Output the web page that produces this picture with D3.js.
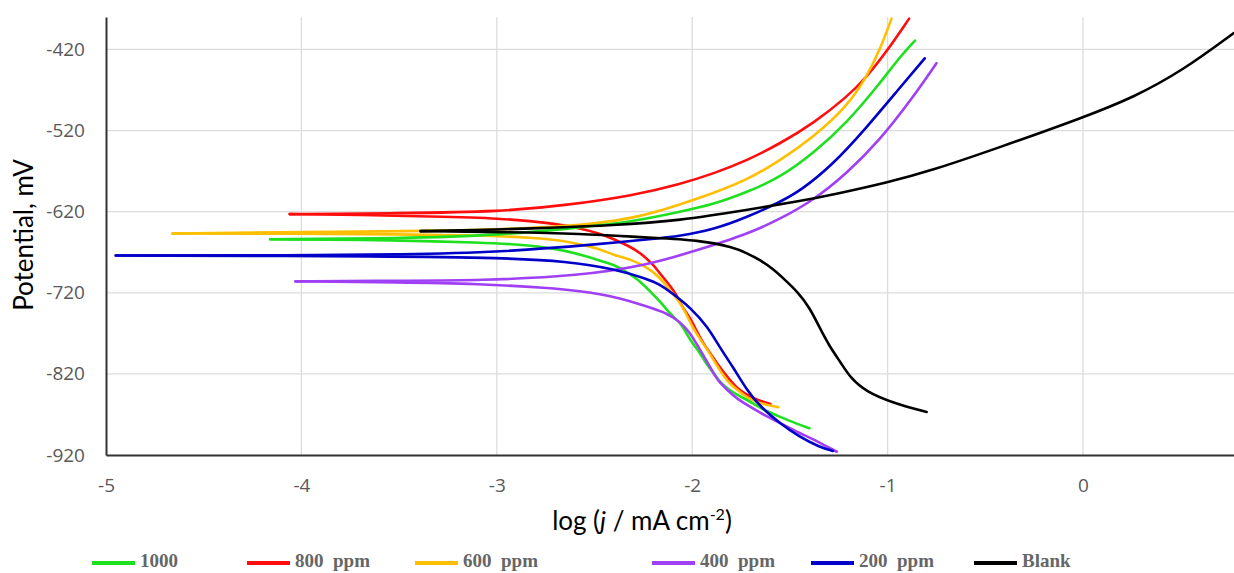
<!DOCTYPE html>
<html>
<head>
<meta charset="utf-8">
<script src="https://cdn.jsdelivr.net/npm/d3@7"></script>
<style>
    body { margin: 0; background: #fff; }
    .tick text { fill: #595959; font-family: "Open Sans", sans-serif; font-size: 19px; }
    .legend text { font-family: "Liberation Serif", serif; font-weight: bold; font-size: 19px; fill: #666; white-space: pre; }
</style>
</head>
<body>
<script>
const w = 1234; // width
const h = 573; // height

// tick labels
const xTicks = [-5, -4, -3, -2, -1, 0];
const yTicks = [-920, -820, -720, -620, -520, -420];

// legend / series
const seriesNames = ["1000", "800  ppm", "600  ppm", "400  ppm", "200  ppm", "Blank"];
const seriesColors = ["#1fe01f", "#ff0d0d", "#ffbf00", "#a040f5", "#0000c8", "#000000"];

// [log j, E (mV)] – each branch starts at the corrosion potential
const cathodic1000 = [[-4.16, -654], [-3.50, -655], [-3.09, -658], [-2.83, -661], [-2.64, -668], [-2.49, -679],
    [-2.39, -686], [-2.32, -697], [-2.27, -705], [-2.22, -717], [-2.18, -727], [-2.16, -732], [-2.13, -741],
    [-2.10, -749], [-2.06, -757], [-2.03, -770], [-2.00, -782], [-1.96, -794], [-1.93, -807], [-1.89, -819],
    [-1.86, -830], [-1.81, -840], [-1.76, -847], [-1.69, -856], [-1.63, -865], [-1.55, -873], [-1.47, -881],
    [-1.40, -887]];
const anodic1000 = [[-4.16, -654], [-3.50, -653], [-2.98, -649], [-2.56, -639], [-2.32, -633], [-2.06, -620],
    [-1.89, -611], [-1.72, -596], [-1.55, -578], [-1.38, -548], [-1.21, -511], [-1.04, -462], [-0.94, -430],
    [-0.86, -409]];

const cathodic800 = [[-4.06, -623], [-3.70, -624], [-3.34, -626], [-2.98, -628], [-2.73, -634], [-2.60, -639],
    [-2.47, -647], [-2.40, -654], [-2.32, -663], [-2.27, -670], [-2.20, -685], [-2.17, -695], [-2.11, -712],
    [-2.08, -723], [-2.05, -738], [-2.01, -751], [-1.98, -766], [-1.95, -780], [-1.91, -794], [-1.87, -808],
    [-1.82, -824], [-1.77, -838], [-1.72, -846], [-1.67, -852], [-1.60, -857]];
const anodic800 = [[-4.06, -623], [-3.50, -622], [-2.98, -620], [-2.64, -612], [-2.30, -600], [-2.06, -586],
    [-1.89, -573], [-1.72, -557], [-1.55, -536], [-1.38, -511], [-1.21, -479], [-1.11, -455], [-1.00, -421],
    [-0.89, -382]];

const cathodic600 = [[-4.66, -647], [-4.01, -647], [-3.50, -648], [-3.09, -649], [-2.82, -652], [-2.64, -656],
    [-2.47, -666], [-2.41, -673], [-2.30, -680], [-2.23, -689], [-2.17, -700], [-2.13, -712], [-2.10, -721],
    [-2.06, -733], [-2.03, -746], [-2.00, -762], [-1.96, -777], [-1.92, -791], [-1.89, -803], [-1.86, -815],
    [-1.82, -829], [-1.77, -840], [-1.72, -849], [-1.67, -855], [-1.62, -858], [-1.56, -861]];
const anodic600 = [[-4.66, -647], [-4.01, -645], [-3.24, -644], [-2.64, -639], [-2.30, -629], [-2.06, -611],
    [-1.89, -597], [-1.72, -581], [-1.55, -557], [-1.38, -528], [-1.21, -491], [-1.11, -455], [-1.04, -421],
    [-0.98, -382]];

const cathodic400 = [[-4.03, -706], [-3.50, -707], [-3.09, -709], [-2.73, -714], [-2.57, -718], [-2.39, -725],
    [-2.23, -737], [-2.13, -745], [-2.06, -756], [-2.01, -770], [-1.98, -782], [-1.95, -794], [-1.92, -807],
    [-1.89, -819], [-1.87, -828], [-1.82, -840], [-1.77, -851], [-1.70, -861], [-1.63, -871], [-1.54, -882],
    [-1.45, -893], [-1.36, -903], [-1.26, -916]];
const anodic400 = [[-4.03, -706], [-3.50, -705], [-3.09, -705], [-2.57, -699], [-2.23, -686], [-1.98, -668],
    [-1.72, -648], [-1.55, -629], [-1.38, -606], [-1.21, -573], [-1.04, -532], [-0.87, -479], [-0.75, -437]];

const cathodic200 = [[-4.95, -674], [-3.50, -675], [-2.98, -677], [-2.64, -681], [-2.39, -691], [-2.23, -703],
    [-2.17, -709], [-2.10, -721], [-2.01, -738], [-1.92, -762], [-1.86, -787], [-1.79, -812], [-1.72, -840],
    [-1.65, -861], [-1.55, -881], [-1.45, -898], [-1.35, -910], [-1.28, -915]];
const anodic200 = [[-4.95, -674], [-4.01, -674], [-3.50, -673], [-2.98, -670], [-2.47, -660], [-2.22, -654],
    [-2.06, -650], [-1.89, -642], [-1.72, -627], [-1.55, -608], [-1.45, -595], [-1.28, -562], [-1.11, -517],
    [-0.94, -468], [-0.81, -431]];

const cathodicBlank = [[-3.39, -644], [-2.98, -645], [-2.57, -647], [-2.23, -652], [-1.96, -655], [-1.79, -664],
    [-1.72, -671], [-1.65, -680], [-1.59, -690], [-1.53, -703], [-1.46, -719], [-1.40, -738], [-1.35, -762],
    [-1.30, -785], [-1.24, -806], [-1.19, -825], [-1.11, -842], [-0.97, -856], [-0.80, -867]];
const anodicBlank = [[-3.39, -644], [-2.98, -642], [-2.74, -640], [-2.41, -637], [-2.06, -631], [-1.72, -618],
    [-1.45, -607], [-1.28, -599], [-1.00, -584], [-0.77, -569], [-0.43, -541], [0.00, -504], [0.26, -479],
    [0.51, -446], [0.77, -400]];

const branches = [
    [cathodic1000, anodic1000],
    [cathodic800, anodic800],
    [cathodic600, anodic600],
    [cathodic400, anodic400],
    [cathodic200, anodic200],
    [cathodicBlank, anodicBlank]
];
const drawOrder = [1, 2, 0, 3, 4, 5];

// legend x positions
const legendX = [92, 247, 415, 652, 811, 974];

let svg = d3.select("body")
    .append("svg")
    .attr("width", w)
    .attr("height", h);

const pLeft = 106, pTop = 17, pBottom = 455;

let x = d3.scaleLinear()
    .domain([-5, 0.8])
    .range([pLeft, pLeft + 5.8 * 195.4]);

let y = d3.scaleLinear()
    .domain([-920, -380])
    .range([pBottom, pTop]);

// grid
svg.append("g")
    .selectAll("line")
    .data(yTicks.slice(1))
    .enter()
    .append("line")
    .attr("x1", pLeft).attr("x2", w)
    .attr("y1", d => y(d)).attr("y2", d => y(d))
    .attr("stroke", "#dcdcdc").attr("stroke-width", 1.3);

svg.append("g")
    .selectAll("line")
    .data(xTicks.slice(1))
    .enter()
    .append("line")
    .attr("x1", d => x(d)).attr("x2", d => x(d))
    .attr("y1", pTop).attr("y2", pBottom)
    .attr("stroke", "#dcdcdc").attr("stroke-width", 1.3);

// curves
svg.append("clipPath").attr("id", "plot")
    .append("rect")
    .attr("x", pLeft).attr("y", pTop - 2)
    .attr("width", w - pLeft).attr("height", pBottom - pTop + 2);

let line = d3.line()
    .x(d => x(d[0]))
    .y(d => y(d[1]))
    .curve(d3.curveBasis);

let gLines = svg.append("g").attr("clip-path", "url(#plot)");
drawOrder.forEach(i => {
    branches[i].forEach(b => {
        gLines.append("path")
            .attr("d", line(b))
            .attr("fill", "none")
            .attr("stroke", seriesColors[i])
            .attr("stroke-width", 2.6)
            .attr("stroke-linecap", "round");
    });
});

// x axis
let gX = svg.append("g")
    .attr("transform", `translate(0,${pBottom})`)
    .call(d3.axisBottom(x).tickValues(xTicks).tickSize(0).tickPadding(24));
gX.select(".domain").attr("stroke", "#333").attr("stroke-width", 2);
gX.selectAll(".tick text").text(d => d < 0 ? "-" + Math.abs(d) : d);

// y axis
let gY = svg.append("g")
    .attr("transform", `translate(${pLeft},0)`)
    .call(d3.axisLeft(y).tickValues(yTicks).tickSize(0).tickPadding(21));
gY.select(".domain").attr("stroke", "#333").attr("stroke-width", 2);
gY.selectAll(".tick text").text(d => "-" + Math.abs(d));

// x axis label
let xt = svg.append("text")
    .attr("x", 642)
    .attr("y", 530)
    .attr("text-anchor", "middle")
    .attr("font-family", "Lato, sans-serif")
    .attr("font-size", 26)
    .attr("fill", "#000");
xt.append("tspan").text("log (");
xt.append("tspan").attr("font-style", "italic").text("j");
xt.append("tspan").text(" / mA cm");
xt.append("tspan").attr("font-size", 16).attr("dy", -10).text("-2");
xt.append("tspan").attr("dy", 10).text(")");

// y axis label
svg.append("text")
    .attr("transform", "rotate(-90)")
    .attr("x", -235)
    .attr("y", 33)
    .attr("text-anchor", "middle")
    .attr("font-family", "Lato, sans-serif")
    .attr("font-size", 26)
    .attr("fill", "#000")
    .text("Potential, mV");

// legend
let legend = svg.append("g").attr("class", "legend");
seriesNames.forEach((name, i) => {
    legend.append("line")
        .attr("x1", legendX[i]).attr("x2", legendX[i] + 43)
        .attr("y1", 563).attr("y2", 563)
        .attr("stroke", seriesColors[i])
        .attr("stroke-width", 4);
    legend.append("text")
        .attr("x", legendX[i] + 48)
        .attr("y", 561)
        .attr("dy", "0.33em")
        .text(name);
});
</script>
</body>
</html>
